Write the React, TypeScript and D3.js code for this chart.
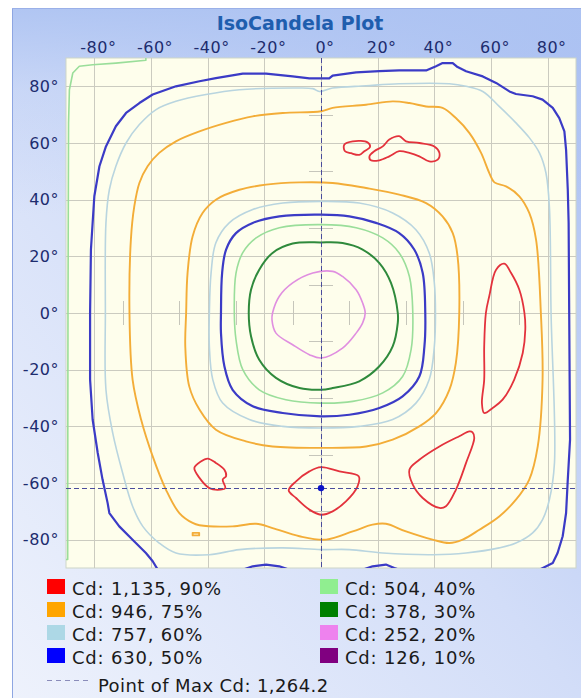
import React from 'react';
import * as d3 from 'd3';

type P = [number, number];

const W = 581;
const H = 698;

const xTicks = [-80, -60, -40, -20, 0, 20, 40, 60, 80];
const yTicks = [80, 60, 40, 20, 0, -20, -40, -60, -80];
const minorTicks = [-70, -50, -30, -10, 10, 30, 50, 70];

const legendCd = ['1,135', '946', '757', '630', '504', '378', '252', '126'];
const legendPct = ['90%', '75%', '60%', '50%', '40%', '30%', '20%', '10%'];
const legendColors = ['#ff0000', '#ffa500', '#add8e6', '#0000ff', '#90ee90', '#008000', '#ee82ee', '#800080'];
const lineColors = ['#e3323c', '#f3ad38', '#b9d5df', '#3b3bc6', '#9ade9a', '#2f8a3c', '#e08fe0', '#800080'];
const lineWidths = [1.8, 1.9, 1.6, 2.2, 1.6, 2.0, 1.6, 1.6];

const maxCdLabel = '1,264.2';
const maxPoint: P = [0, -61.8];

const outer630: P[] = [[-81.5,0],[-81.2,22.4],[-80,41.2],[-78.2,51.8],[-75.9,58.8],[-72.4,65.9],[-68.8,70.6],[-64.1,74.1],[-59.4,77.1],[-51.2,80],[-42.9,81.8],[-37.1,82.9],[-27.6,84.5],[-19.4,84.5],[-10,83.5],[-4.1,82.8],[2.9,82.8],[4.1,83.8],[12.4,84.9],[20.6,85.4],[27.6,85.6],[37.1,85.6],[40.6,87.1],[42.9,88.2],[46.5,88.2],[48.2,86.8],[51.2,85.3],[57.1,83.5],[61.8,81.2],[66.5,78.2],[68.8,77.3],[74.7,76.5],[78.2,75.3],[81.8,72.4],[84.1,68.8],[85.9,64.1],[86.5,57.6],[87.1,43.5],[87.4,31.8],[87.6,0],[87.9,-44.7],[87.1,-58.8],[86.5,-70.6],[85.3,-78.8],[83.5,-84.7],[81.8,-88.2],[77.1,-90.6],[76,-96],[28,-96],[27.6,-90.6],[25.9,-90],[22.9,-88.8],[18.2,-89.4],[14.7,-90.6],[14.5,-96],[-11,-96],[-11.2,-90.6],[-14.7,-89.4],[-19.4,-88.8],[-24.1,-89.4],[-27.6,-90.6],[-28,-96],[-57,-96],[-57.6,-90.6],[-59.4,-87.6],[-61.8,-84.7],[-66.5,-80],[-71.2,-75.3],[-74.7,-70.6],[-75.3,-67.1],[-77.1,-58.8],[-78.8,-49.4],[-80.6,-37.6],[-81.5,-23.5]];

const corner504: P[] = [[-61.8,89.2],[-72.4,88.2],[-80.6,87.6],[-85.3,87.1],[-87.6,84.7],[-88.8,78.8],[-89.1,67],[-89.3,0],[-89.4,-70.6],[-89.4,-87],[-96,-87],[-96,96],[-62,96]];

const outer757: P[] = [[-76.1,0],[-75.9,31.8],[-74.7,43.5],[-72.4,51.8],[-68.8,60],[-64.1,66.5],[-58.2,71.8],[-51.2,74.7],[-40.6,77.1],[-28.8,78.8],[-10,79.4],[-2.9,79.2],[-0.6,78.2],[4.1,79.4],[15.9,80.2],[27.6,80.9],[45.3,80.9],[51.2,80],[57.1,78.2],[62.9,72.9],[68.8,67.1],[73.5,61.9],[77.1,56.5],[79.4,49.4],[80.6,37.6],[81.2,0],[82.4,-52.9],[80.6,-65.9],[78.2,-72.9],[74.7,-77.6],[68.8,-81.2],[62.9,-82.9],[51.2,-84.7],[39.4,-85.3],[21.8,-84.7],[10,-83.5],[0,-83.5],[-13.5,-82.9],[-28.8,-83.5],[-39.4,-85.3],[-51.2,-84.7],[-57.1,-81.2],[-62.9,-75.3],[-66.5,-68.2],[-70,-56.5],[-73.5,-42.4],[-75.9,-27.1]];

const outer946: P[] = [[-67.6,0],[-67.1,25.9],[-65.9,37.6],[-64.1,45.9],[-61.2,51.8],[-57.1,56.5],[-51.2,60.6],[-42.9,64.1],[-33.5,67.1],[-24.1,69.4],[-13.5,70.6],[0,71.2],[4.1,72.4],[15.9,73.5],[25.3,74.7],[31.2,74.1],[37.1,72.9],[42.9,72.4],[47.6,68.8],[52.4,63.5],[56.5,56.5],[59.4,49.4],[61.2,46.1],[65.3,44.7],[70,41.2],[73.5,35.3],[75.9,25.9],[77.6,0],[78.2,-23.5],[76.5,-47.1],[73.5,-58.8],[68.8,-65.9],[62.9,-71.8],[55.9,-76.5],[50,-80],[45.3,-81.2],[39.4,-80],[30,-77.1],[22.9,-74.4],[18.2,-74.7],[11.2,-77.1],[1.8,-80],[-7.6,-78.8],[-17.1,-75.9],[-22.9,-74.4],[-31.2,-75.3],[-42.9,-74.9],[-45.3,-74.1],[-50,-70.6],[-54.7,-62.4],[-59.4,-50.6],[-63.5,-37.6],[-66.5,-23.5]];

const speck946: P[] = [[-45.3,-77.6],[-43,-77.6],[-43,-78.5],[-45.3,-78.5]];

const inner946: P[] = [[-47.6,0],[-47.1,14.1],[-45.3,27.1],[-41.8,35.3],[-37.1,40],[-28.8,43.5],[-19.4,45.3],[-7.6,46.1],[4.1,45.9],[15.9,44.1],[27.6,41.8],[37.1,38.8],[42.9,34.1],[46.5,28.2],[48.2,20],[48.8,0],[47.6,-17.6],[45.3,-27.1],[40.6,-35.3],[34.7,-40],[25.3,-44.7],[15.9,-47.1],[0,-47.6],[-17.1,-47.1],[-26.5,-45.3],[-37.1,-41.2],[-42.9,-34.1],[-46.5,-25.9],[-47.9,-11.8]];

const inner757: P[] = [[-39.4,0],[-38.8,14.1],[-37.1,24.8],[-32.4,31.8],[-24.1,36.5],[-13.5,38.8],[0,39.4],[13.5,38.8],[25.3,35.3],[33.5,29.4],[38.2,21.2],[40,10.6],[40.4,0],[40,-11.8],[38.2,-23.5],[33.5,-31.8],[25.3,-37.6],[13.5,-40],[0,-40.6],[-13.5,-40],[-25.3,-37.6],[-34.7,-31.8],[-38.2,-23.5],[-39.4,-11.8]];

const ring630: P[] = [[-35.3,0],[-34.9,14.1],[-33.5,22.4],[-30,28.2],[-24.1,31.8],[-14.7,34.1],[0,34.7],[10,34.1],[19.4,31.8],[27.6,28.2],[32.9,22.4],[35.9,14.1],[36.8,0],[36.5,-11.8],[34.7,-22.4],[28.8,-29.4],[20.6,-33.5],[10,-35.9],[0,-36.5],[-13.5,-35.3],[-24.1,-32.9],[-31.2,-27.1],[-34.1,-18.8],[-35.3,-7.1]];

const ring504: P[] = [[-30.6,0],[-30,14.1],[-27.6,21.3],[-22.9,26.5],[-14.7,30.1],[0,31.2],[12.4,30.1],[21.8,26.5],[27.6,21.2],[31.2,12.9],[32.4,0],[31.8,-12.9],[28.8,-22.4],[21.8,-28.2],[11.2,-31.2],[0,-31.8],[-12.4,-30.6],[-21.8,-27.1],[-27.6,-20],[-30,-9.4]];

const ring378: P[] = [[-25.5,0],[-24.7,8.2],[-21.8,15.3],[-17.1,21.2],[-10,24.5],[0,24.9],[7.6,24.7],[14.7,22.4],[20.6,17.6],[24.7,10.6],[27.1,0],[27.1,-3.5],[25.3,-11.8],[20.6,-18.8],[13.5,-24.1],[4.1,-26.5],[0,-27.1],[-7.6,-26.5],[-15.9,-22.9],[-21.8,-16.5],[-24.7,-8.2]];

const ring252: P[] = [[-17.1,0],[-14.7,5.9],[-10,10.6],[-2.9,14.1],[4.1,14.7],[7.6,12.9],[12.4,8.2],[14.7,3.5],[15.6,0],[14.7,-3.5],[12.4,-7.1],[7.6,-12.4],[0,-15.9],[-4.1,-14.7],[-10,-11.2],[-15.9,-7.1],[-17.3,-2.4]];

const red1: P[] = [[8.2,59.4],[11.2,60.6],[16.5,60.2],[17.3,58.6],[15.3,57.1],[13.5,55.8],[10.6,56.4],[8.4,57.2]];
const red2: P[] = [[17.1,55.3],[18.8,57.1],[21.8,58.8],[24.1,61.2],[27.6,62.4],[30,60.6],[34.7,60],[40,58.8],[41.8,56.5],[41.2,54.1],[38.2,53.5],[34.7,55.3],[31.2,56.5],[27.6,57.1],[24.1,55.3],[20.6,53.9],[17.6,53.9]];
const red3: P[] = [[58.2,0],[59.4,6],[61.8,15.3],[64.7,17.4],[67.1,14.1],[70,8.2],[71.8,0],[72.1,-5.9],[71.2,-14.1],[68.2,-23.5],[64.1,-30.6],[60.6,-33.5],[57.6,-35.3],[56.8,-31.8],[57.6,-23.5],[57.6,-11.8]];
const red4: P[] = [[53.5,-42.1],[54.1,-44.1],[51.2,-52.9],[47.6,-62.4],[44.1,-68.2],[41.8,-68.8],[35.9,-65.3],[32.4,-60.6],[31.2,-55.3],[34.7,-51.8],[41.8,-47.1],[48.8,-43.5],[52.4,-41.8]];
const red5: P[] = [[0,-54.4],[6.5,-55.9],[13.3,-57.6],[12.9,-61.2],[8.8,-66.5],[4.1,-70],[0,-71.2],[-4.1,-69.4],[-8.8,-65.3],[-11.4,-62.6],[-8.8,-59.4],[-4.1,-55.9]];
const red6: P[] = [[-44.7,-54.7],[-42.4,-52.4],[-40,-51.4],[-37.1,-52.9],[-34.1,-55.3],[-33.5,-57.6],[-34.7,-58.8],[-33.8,-61.8],[-36.5,-62.4],[-39.4,-61.8],[-42.9,-58.2]];

// level index into legend arrays; smooth = use a rounded curve
const contours: { level: number; pts: P[]; smooth: boolean }[] = [
  { level: 4, pts: corner504, smooth: false },
  { level: 3, pts: outer630, smooth: false },
  { level: 2, pts: outer757, smooth: true },
  { level: 1, pts: outer946, smooth: true },
  { level: 1, pts: speck946, smooth: false },
  { level: 1, pts: inner946, smooth: true },
  { level: 2, pts: inner757, smooth: true },
  { level: 3, pts: ring630, smooth: true },
  { level: 4, pts: ring504, smooth: true },
  { level: 5, pts: ring378, smooth: true },
  { level: 6, pts: ring252, smooth: true },
  { level: 0, pts: red1, smooth: true },
  { level: 0, pts: red2, smooth: true },
  { level: 0, pts: red3, smooth: true },
  { level: 0, pts: red4, smooth: true },
  { level: 0, pts: red5, smooth: true },
  { level: 0, pts: red6, smooth: true },
];

export default function App() {
  const x = d3.scaleLinear().domain([-90, 90]).range([66, 576]);
  const y = d3.scaleLinear().domain([90, -90]).range([58, 568]);
  const lineSharp = d3
    .line<P>()
    .x((d) => x(d[0]))
    .y((d) => y(d[1]))
    .curve(d3.curveLinearClosed);
  const lineSmooth = d3
    .line<P>()
    .x((d) => x(d[0]))
    .y((d) => y(d[1]))
    .curve(d3.curveCatmullRomClosed.alpha(0.5));

  const font = "'DejaVu Sans', Verdana, sans-serif";
  const labelColor = '#1d2c6e';

  return (
    <svg
      width={W}
      height={H}
      style={{ position: 'absolute', left: 0, top: 0, display: 'block' }}
    >
      <defs>
        <linearGradient id="bgDiag" x1="0" y1="1" x2="1" y2="0">
          <stop offset="0" stopColor="#eef2fc" />
          <stop offset="0.5" stopColor="#d2ddf8" />
          <stop offset="1" stopColor="#a9bff2" />
        </linearGradient>
        <linearGradient id="bgTop" x1="0" y1="0" x2="0" y2="1">
          <stop offset="0" stopColor="#adc3f2" stopOpacity="0.9" />
          <stop offset="0.12" stopColor="#adc3f2" stopOpacity="0.3" />
          <stop offset="0.3" stopColor="#adc3f2" stopOpacity="0" />
        </linearGradient>
        <clipPath id="plotClip">
          <rect x={x(-90)} y={y(90)} width={x(90) - x(-90)} height={y(-90) - y(90)} />
        </clipPath>
      </defs>

      {/* panel */}
      <rect x={12} y={8} width={W - 12} height={H - 8} fill="url(#bgDiag)" />
      <rect x={12} y={8} width={W - 12} height={H - 8} fill="url(#bgTop)" />
      <line x1={12.5} y1={8} x2={12.5} y2={H} stroke="#8ea6e2" strokeWidth={1} />
      <line x1={12} y1={8.5} x2={W} y2={8.5} stroke="#9ab0e8" strokeWidth={1} />

      {/* title */}
      <text x={300} y={30} textAnchor="middle" fontFamily={font} fontWeight="bold" fontSize={19} fill="#1f5eae">
        IsoCandela Plot
      </text>

      {/* plot background */}
      <rect x={x(-90)} y={y(90)} width={x(90) - x(-90)} height={y(-90) - y(90)} fill="#fefeec" stroke="#cdd5c8" strokeWidth={1} />

      {/* grid */}
      <g stroke="#cbcbc0" strokeWidth={1}>
        {xTicks.map((t) => (
          <line key={'gx' + t} x1={Math.round(x(t)) + 0.5} x2={Math.round(x(t)) + 0.5} y1={y(90)} y2={y(-90)} />
        ))}
        {yTicks.map((t) => (
          <line key={'gy' + t} y1={Math.round(y(t)) + 0.5} y2={Math.round(y(t)) + 0.5} x1={x(-90)} x2={x(90)} />
        ))}
      </g>

      {/* minor crosshair ticks */}
      <g stroke="#c6c6bb" strokeWidth={1}>
        {minorTicks.map((t) => (
          <line key={'mx' + t} x1={Math.round(x(t)) + 0.5} x2={Math.round(x(t)) + 0.5} y1={y(0) - 12} y2={y(0) + 12} />
        ))}
        {minorTicks.map((t) => (
          <line key={'my' + t} y1={Math.round(y(t)) + 0.5} y2={Math.round(y(t)) + 0.5} x1={x(0) - 12} x2={x(0) + 12} />
        ))}
      </g>

      {/* contours */}
      <g clipPath="url(#plotClip)" fill="none" strokeLinejoin="round">
        {contours.map((c, i) => (
          <path
            key={'c' + i}
            d={(c.smooth ? lineSmooth(c.pts) : lineSharp(c.pts)) || ''}
            stroke={lineColors[c.level]}
            strokeWidth={lineWidths[c.level]}
          />
        ))}
      </g>

      {/* point of max crosshair */}
      <g stroke="#4a4c9c" strokeWidth={1} strokeDasharray="5,3">
        <line x1={Math.round(x(maxPoint[0])) + 0.5} x2={Math.round(x(maxPoint[0])) + 0.5} y1={y(90)} y2={y(-90)} />
        <line y1={Math.round(y(maxPoint[1])) + 0.5} y2={Math.round(y(maxPoint[1])) + 0.5} x1={x(-90)} x2={x(90)} />
      </g>
      <circle cx={x(maxPoint[0])} cy={y(maxPoint[1])} r={3.2} fill="#0a12c8" />

      {/* top axis labels */}
      {xTicks.map((t) => (
        <text key={'tx' + t} x={x(t) + 4} y={53} textAnchor="middle" fontFamily={font} fontSize={16} letterSpacing={0.5} fill={labelColor}>
          {t + '°'}
        </text>
      ))}
      {/* left axis labels */}
      {yTicks.map((t) => (
        <text key={'ty' + t} x={59} y={y(t)} dy="0.36em" textAnchor="end" fontFamily={font} fontSize={16} letterSpacing={0.5} fill={labelColor}>
          {t + '°'}
        </text>
      ))}

      {/* legend */}
      {legendCd.map((cd, i) => {
        const col = Math.floor(i / 4);
        const row = i % 4;
        const sx = col === 0 ? 47 : 320;
        const sy = 579 + row * 23;
        return (
          <g key={'lg' + i}>
            <rect x={sx} y={sy} width={18} height={15} fill={legendColors[i]} />
            <text x={sx + 25} y={sy + 15.5} fontFamily={font} fontSize={18} letterSpacing={0.8} fill="#1a1a1a">
              {'Cd: ' + cd + ', ' + legendPct[i]}
            </text>
          </g>
        );
      })}
      <line x1={47} x2={91} y1={680.5} y2={680.5} stroke="#8a8cba" strokeWidth={1.2} strokeDasharray="5,4" />
      <text x={98} y={692} fontFamily={font} fontSize={18} letterSpacing={0.4} fill="#1a1a1a">
        {'Point of Max Cd: ' + maxCdLabel}
      </text>
    </svg>
  );
}
